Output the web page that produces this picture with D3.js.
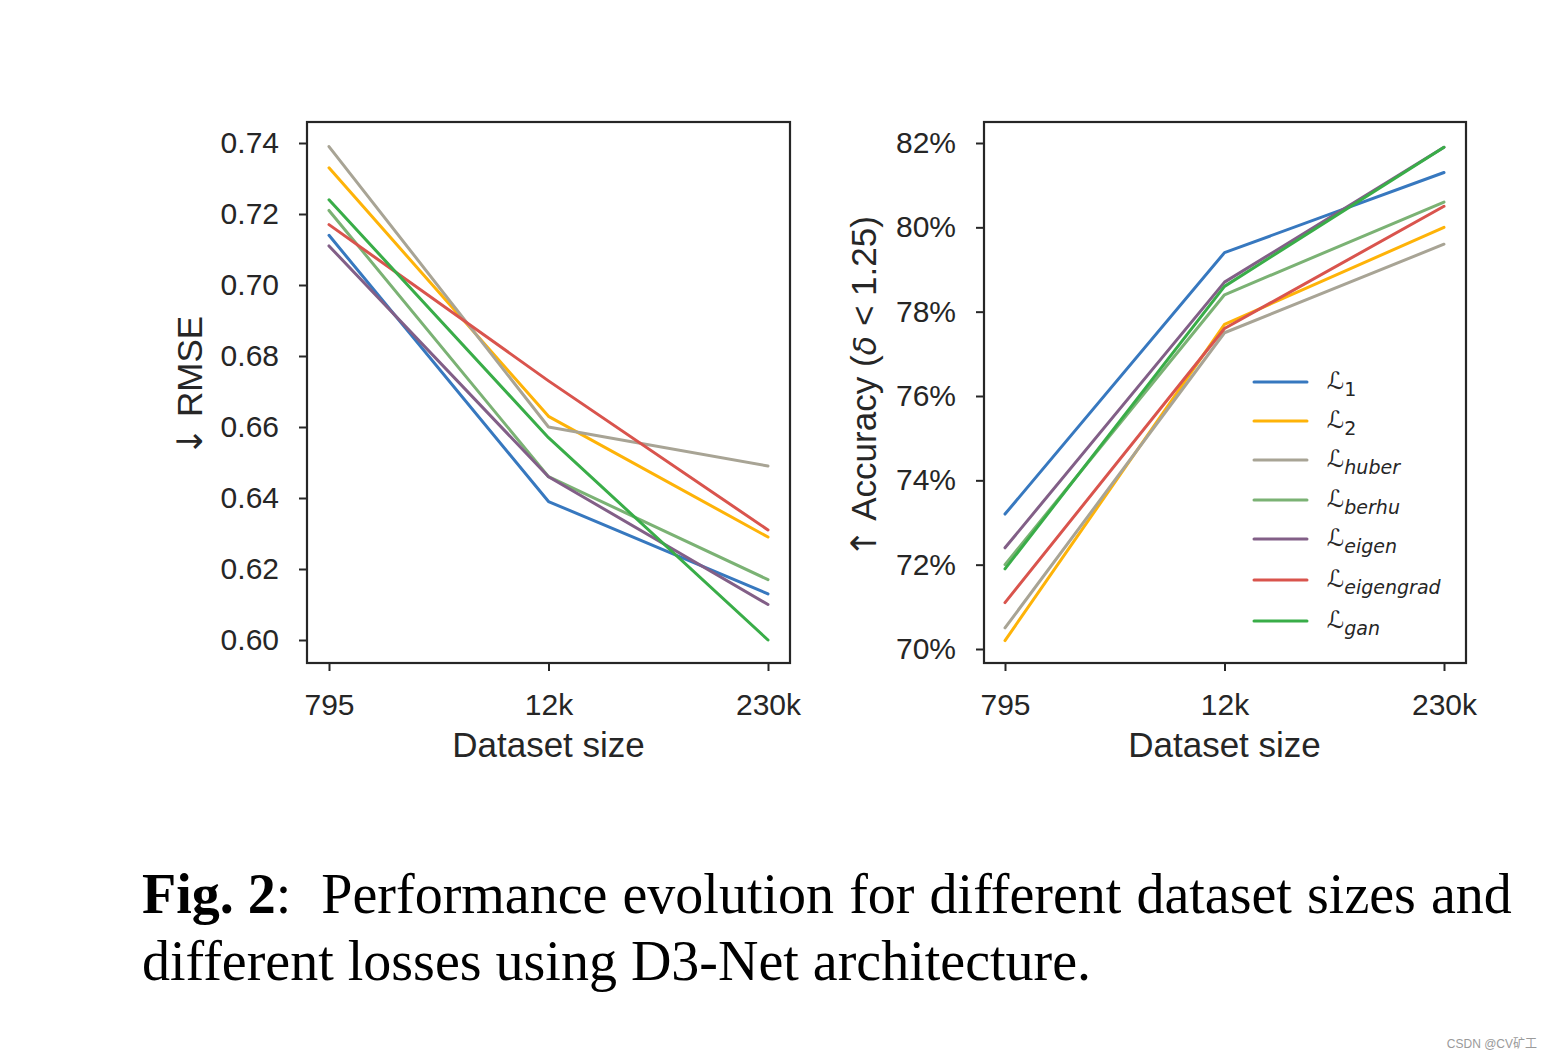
<!DOCTYPE html>
<html><head><meta charset="utf-8">
<script src="https://cdn.jsdelivr.net/npm/d3@7"></script>
<style>
body{margin:0;background:#fff;}
</style></head>
<body>
<svg id="c" width="1552" height="1060"></svg>
<script>
const categories = ["795","12k","230k"];
const seriesNames = ["1","2","huber","berhu","eigen","eigengrad","gan"];
const seriesColors = ["#3778bf","#feb308","#a8a495","#7bb274","#825f87","#d9544d","#39ad48"];
// RMSE (left)
const rmseL1 = [0.714,0.639,0.613];
const rmseL2 = [0.733,0.663,0.629];
const rmseHuber = [0.739,0.660,0.649];
const rmseBerhu = [0.721,0.646,0.617];
const rmseEigen = [0.711,0.646,0.610];
const rmseEigengrad = [0.717,0.673,0.631];
const rmseGan = [0.724,0.657,0.600];
// Accuracy (right), percent
const accL1 = [73.2,79.4,81.3];
const accL2 = [70.2,77.7,80.0];
const accHuber = [70.5,77.5,79.6];
const accBerhu = [72.0,78.4,80.6];
const accEigen = [72.4,78.7,81.9];
const accEigengrad = [71.1,77.6,80.5];
const accGan = [71.9,78.6,81.9];
const rmseTicks = [0.60,0.62,0.64,0.66,0.68,0.70,0.72,0.74];
const accTicks = [70,72,74,76,78,80,82];

const rmseSeries = [rmseL1,rmseL2,rmseHuber,rmseBerhu,rmseEigen,rmseEigengrad,rmseGan];
const accSeries = [accL1,accL2,accHuber,accBerhu,accEigen,accEigengrad,accGan];

const svg = d3.select("#c");
const ink = "#262626";
const SANS = "'Liberation Sans',Arial,sans-serif";
const SERIF = "'Liberation Serif','Times New Roman',serif";

function panel(frame, xRange, yScale, ticks, fmt, series){
  const g = svg.append("g");
  const x = d3.scalePoint().domain(categories).range(xRange);
  const line = d3.line().x((d,i)=>x(categories[i])).y(d=>yScale(d));
  series.forEach((s,k)=>{
    g.append("path").attr("d",line(s)).attr("fill","none")
     .attr("stroke",seriesColors[k]).attr("stroke-width",3)
     .attr("stroke-linecap","round").attr("stroke-linejoin","round");
  });
  g.append("rect").attr("x",frame.x0).attr("y",frame.y0)
   .attr("width",frame.x1-frame.x0).attr("height",frame.y1-frame.y0)
   .attr("fill","none").attr("stroke",ink).attr("stroke-width",2.2);
  const ya = g.append("g").attr("transform",`translate(${frame.x0},0)`)
    .call(d3.axisLeft(yScale).tickValues(ticks).tickFormat(fmt).tickSize(8).tickPadding(20));
  ya.select(".domain").remove();
  ya.selectAll("line").attr("stroke",ink).attr("stroke-width",2);
  ya.selectAll("text").style("font-size","30px").style("fill",ink).style("font-family",SANS);
  const xa = g.append("g").attr("transform",`translate(0,${frame.y1})`)
    .call(d3.axisBottom(x).tickSize(8).tickPadding(23));
  xa.select(".domain").remove();
  xa.selectAll("line").attr("stroke",ink).attr("stroke-width",2);
  xa.selectAll("text").style("font-size","30px").style("fill",ink).style("font-family",SANS);
  g.append("text").attr("x",(xRange[0]+xRange[1])/2).attr("y",757)
    .attr("text-anchor","middle").style("font-size","35px").style("fill",ink)
    .style("font-family",SANS).text("Dataset size");
  return x;
}

const yL = d3.scaleLinear().domain([0.60,0.74]).range([640,143]);
panel({x0:307,x1:790,y0:122,y1:663},[329,768],yL,rmseTicks,d3.format(".2f"),rmseSeries);
const yR = d3.scaleLinear().domain([70,82]).range([649,143]);
panel({x0:984,x1:1466,y0:122,y1:663},[1005,1444],yR,accTicks,d=>d+"%",accSeries);

// y labels
const l1 = svg.append("text").attr("transform","translate(202,386) rotate(-90)")
  .attr("text-anchor","middle").style("font-size","35px").style("fill",ink).style("font-family",SANS);
l1.append("tspan").style("font-family","'DejaVu Sans',sans-serif").text("↓");
l1.append("tspan").text(" RMSE");
const yl = svg.append("text").attr("transform","translate(876,387) rotate(-90)")
  .attr("text-anchor","middle").style("font-size","35px").style("fill",ink).style("font-family",SANS);
yl.append("tspan").style("font-family","'DejaVu Sans',sans-serif").text("↑");
yl.append("tspan").text(" Accuracy (");
yl.append("tspan").style("font-style","italic").style("font-family","'DejaVu Sans',sans-serif").style("font-size","32px").text("δ");
yl.append("tspan").text(" < 1.25)");

// legend
const legY = [382,421,460,500,539,580,621];
const leg = svg.append("g");
seriesNames.forEach((n,k)=>{
  leg.append("line").attr("x1",1254).attr("x2",1307).attr("y1",legY[k]).attr("y2",legY[k])
    .attr("stroke",seriesColors[k]).attr("stroke-width",3).attr("stroke-linecap","round");
  const t = leg.append("text").attr("x",1327).attr("y",legY[k]+7).style("font-size","24px")
    .style("fill",ink).style("font-family","'DejaVu Sans',sans-serif");
  t.append("tspan").text("ℒ");
  const sub = t.append("tspan").attr("dy",7).style("font-size","19px");
  if (/^\d$/.test(n)) sub.text(n); else sub.style("font-style","italic").text(n);
});

// caption
const cap1 = svg.append("text").attr("x",142).attr("y",913).style("font-size","56px")
  .style("font-family",SERIF).style("fill","#000");
cap1.append("tspan").style("font-weight","bold").text("Fig. 2");
cap1.append("tspan").text(":");
const rest = cap1.append("tspan").attr("dx",30).text("Performance evolution for different dataset sizes and");
// justify first line to the reference width
const w1 = cap1.node().getComputedTextLength() + 30;
const nSp = 7;
rest.style("word-spacing", ((1371 - w1) / nSp) + "px");
svg.append("text").attr("x",142).attr("y",980).style("font-size","56px")
  .style("font-family",SERIF).style("fill","#000")
  .text("different losses using D3-Net architecture.");

// watermark
svg.append("text").attr("x",1537).attr("y",1048).attr("text-anchor","end")
  .style("font-size","12px").style("fill","#9a9a9a")
  .style("font-family","'Liberation Sans','Noto Sans CJK SC',sans-serif").text("CSDN @CV矿工");
</script>
</body></html>
